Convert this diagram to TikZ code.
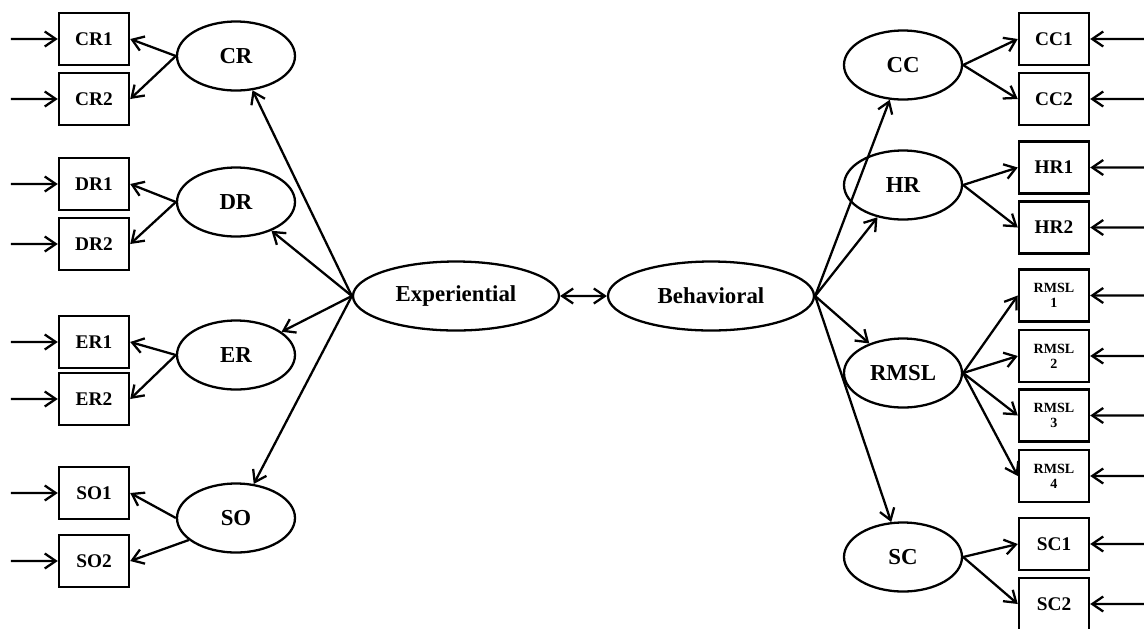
\documentclass[tikz,border=0pt]{standalone}
\usepackage{fontspec}
\setmainfont{Liberation Serif}
\usetikzlibrary{arrows.meta,shapes.geometric}

\begin{document}
\begin{tikzpicture}[scale=0.2]
\tikzstyle{every node}+=[inner sep=0pt, font=\bfseries\fontsize{11}{12}\selectfont]
\tikzstyle{ind}=[draw, line width=1.4pt, minimum width=1.4cm, minimum height=1.04cm]
\tikzstyle{small}=[font=\bfseries\fontsize{8}{8.5}\selectfont, align=center]
\tikzstyle{lat}=[draw, ellipse, line width=1.3pt, minimum width=2.36cm, minimum height=1.38cm, font=\bfseries\fontsize{13}{14}\selectfont]
\tikzstyle{big}=[minimum width=4.12cm]
\tikzstyle{arr}=[line width=1.3pt, -{Straight Barb[length=2.2mm,width=3mm]}]
\tikzstyle{both}=[line width=1.3pt, {Straight Barb[length=2.2mm,width=3mm]}-{Straight Barb[length=2.2mm,width=3mm]}]
\useasboundingbox (0,0) rectangle (114.4,-62.8);

\node [ind] (cr1) at (9.4,-3.9) {CR1};
\node [ind] (cr2) at (9.4,-9.9) {CR2};
\node [ind] (dr1) at (9.4,-18.4) {DR1};
\node [ind] (dr2) at (9.4,-24.4) {DR2};
\node [ind] (er1) at (9.4,-34.2) {ER1};
\node [ind] (er2) at (9.4,-39.9) {ER2};
\node [ind] (so1) at (9.4,-49.3) {SO1};
\node [ind] (so2) at (9.4,-56.1) {SO2};

\node [lat] (cr) at (23.6,-5.6) {CR};
\node [lat] (dr) at (23.6,-20.2) {DR};
\node [lat] (er) at (23.6,-35.5) {ER};
\node [lat] (so) at (23.6,-51.8) {SO};

\node [lat, big] (exp) at (45.6,-29.6) {Experiential};
\node [lat, big] (beh) at (71.1,-29.6) {Behavioral};

\node [lat] (cc) at (90.3,-6.5) {CC};
\node [lat] (hr) at (90.3,-18.5) {HR};
\node [lat] (rmsl) at (90.3,-37.3) {RMSL};
\node [lat] (sc) at (90.3,-55.7) {SC};

\node [ind] (cc1) at (105.4,-3.9) {CC1};
\node [ind] (cc2) at (105.4,-9.9) {CC2};
\node [ind] (hr1) at (105.4,-16.75) {HR1};
\node [ind] (hr2) at (105.4,-22.75) {HR2};
\node [ind, small] (rm1) at (105.4,-29.55) {RMSL\\1};
\node [ind, small] (rm2) at (105.4,-35.6) {RMSL\\2};
\node [ind, small] (rm3) at (105.4,-41.55) {RMSL\\3};
\node [ind, small] (rm4) at (105.4,-47.6) {RMSL\\4};
\node [ind] (sc1) at (105.4,-54.4) {SC1};
\node [ind] (sc2) at (105.4,-60.4) {SC2};

\draw [both] (exp) -- (beh);

\foreach \f in {cr,dr,er,so}
  \draw [arr] (exp.west) -- (\f);
\foreach \f in {cc,hr,rmsl,sc}
  \draw [arr] (beh.east) -- (\f);

\draw [arr] (cr.west) -- (cr1.east);
\draw [arr] (cr.west) -- (cr2.east);
\draw [arr] (dr.west) -- (dr1.east);
\draw [arr] (dr.west) -- (dr2.east);
\draw [arr] (er.west) -- (er1.east);
\draw [arr] (er.west) -- (er2.east);
\draw [arr] (so.west) -- (so1.east);
\draw [arr] (so.205) -- (so2.east);

\draw [arr] (cc.east) -- (cc1.west);
\draw [arr] (cc.east) -- (cc2.west);
\draw [arr] (hr.east) -- (hr1.west);
\draw [arr] (hr.east) -- (hr2.west);
\foreach \m in {rm1,rm2,rm3,rm4}
  \draw [arr] (rmsl.east) -- (\m.west);
\draw [arr] (sc.east) -- (sc1.west);
\draw [arr] (sc.east) -- (sc2.west);

\foreach \b in {cr1,cr2,dr1,dr2,er1,er2,so1,so2} {
  \path (\b.west) ++(-4.7,0) coordinate (\b-e);
  \draw [arr] (\b-e) -- (\b.west);
}
\foreach \b in {cc1,cc2,hr1,hr2,rm1,rm2,rm3,rm4,sc1,sc2} {
  \path (\b.east) ++(5.4,0) coordinate (\b-e);
  \draw [arr] (\b-e) -- (\b.east);
}
\end{tikzpicture}
\end{document}
